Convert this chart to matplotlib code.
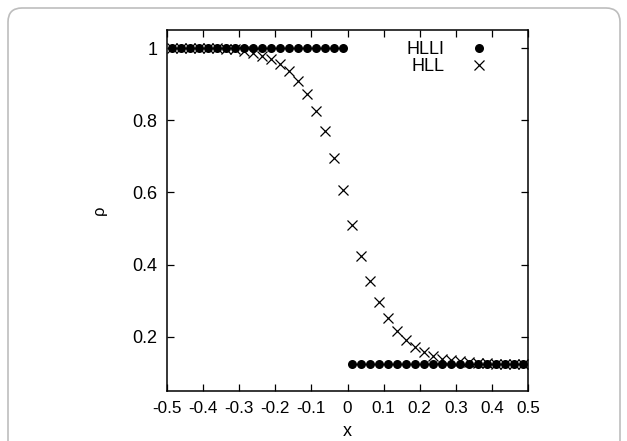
import numpy as np
import matplotlib
matplotlib.use("Agg")
import matplotlib.pyplot as plt
from matplotlib.patches import FancyBboxPatch

plt.rcParams['font.family'] = ['Liberation Sans', 'DejaVu Sans']

# cell centres
x = [-0.4875 + 0.025 * i for i in range(40)]

hlli = [1.0] * 20 + [0.125] * 20

hll = [1.000, 1.000, 1.000, 1.000, 0.999, 0.999, 0.998, 0.996, 0.992, 0.985,
       0.978, 0.969, 0.955, 0.936, 0.909, 0.874, 0.827, 0.769, 0.696, 0.606,
       0.510, 0.424, 0.354, 0.296, 0.251, 0.216, 0.191, 0.172, 0.158, 0.147,
       0.140, 0.135, 0.132, 0.130, 0.128, 0.127, 0.126, 0.126, 0.125, 0.125]

xticks = [-0.5, -0.4, -0.3, -0.2, -0.1, 0, 0.1, 0.2, 0.3, 0.4, 0.5]
xticklabels = ['-0.5', '-0.4', '-0.3', '-0.2', '-0.1', '0', '0.1', '0.2', '0.3', '0.4', '0.5']
yticks = [0.2, 0.4, 0.6, 0.8, 1.0]
yticklabels = ['0.2', '0.4', '0.6', '0.8', '1']

W, H = 627, 441
FS = 13
fig = plt.figure(figsize=(W / 100, H / 100), dpi=100)

# rounded outer frame (in pixels)
frame = FancyBboxPatch((8, -30), 612, 463,
                       boxstyle="round,pad=0,rounding_size=14",
                       transform=None, facecolor='white', edgecolor='#bdbdbd',
                       linewidth=1.2, zorder=-10)
fig.patches.append(frame)

ax = fig.add_axes([167 / W, 1 - 391 / H, (528 - 167) / W, (391 - 30) / H])
ax.set_zorder(5)
ax.set_facecolor('none')

ax.plot(x, hlli, linestyle='none', marker='o', markersize=6.5, color='black',
        markeredgewidth=0, label='HLLI')
ax.plot(x, hll, linestyle='none', marker='x', markersize=6.5, color='black',
        markeredgewidth=0.9, label='HLL')

ax.set_xlim(-0.5, 0.5)
ax.set_ylim(0.05, 1.05)
ax.set_xticks(xticks)
ax.set_xticklabels(xticklabels)
ax.set_yticks(yticks)
ax.set_yticklabels(yticklabels)

ax.tick_params(direction='in', length=5, width=0.9, top=True, right=True, pad=7)
ax.tick_params(axis='x', labelsize=12.3)
ax.tick_params(axis='y', labelsize=FS)
for s in ax.spines.values():
    s.set_linewidth(1.1)

ax.set_xlabel('x', fontsize=FS, labelpad=5)
ax.set_ylabel('ρ', fontsize=FS - 1, labelpad=18, rotation=90)

leg = ax.legend(loc='upper right', bbox_to_anchor=(0.925, 1.0),
                markerfirst=False, frameon=False,
                fontsize=FS, handlelength=1.2, handletextpad=1.3,
                borderaxespad=0.2, labelspacing=0.0)
for t in leg.get_texts():
    t.set_ha('right')

fig.savefig('out.png', dpi=100)
